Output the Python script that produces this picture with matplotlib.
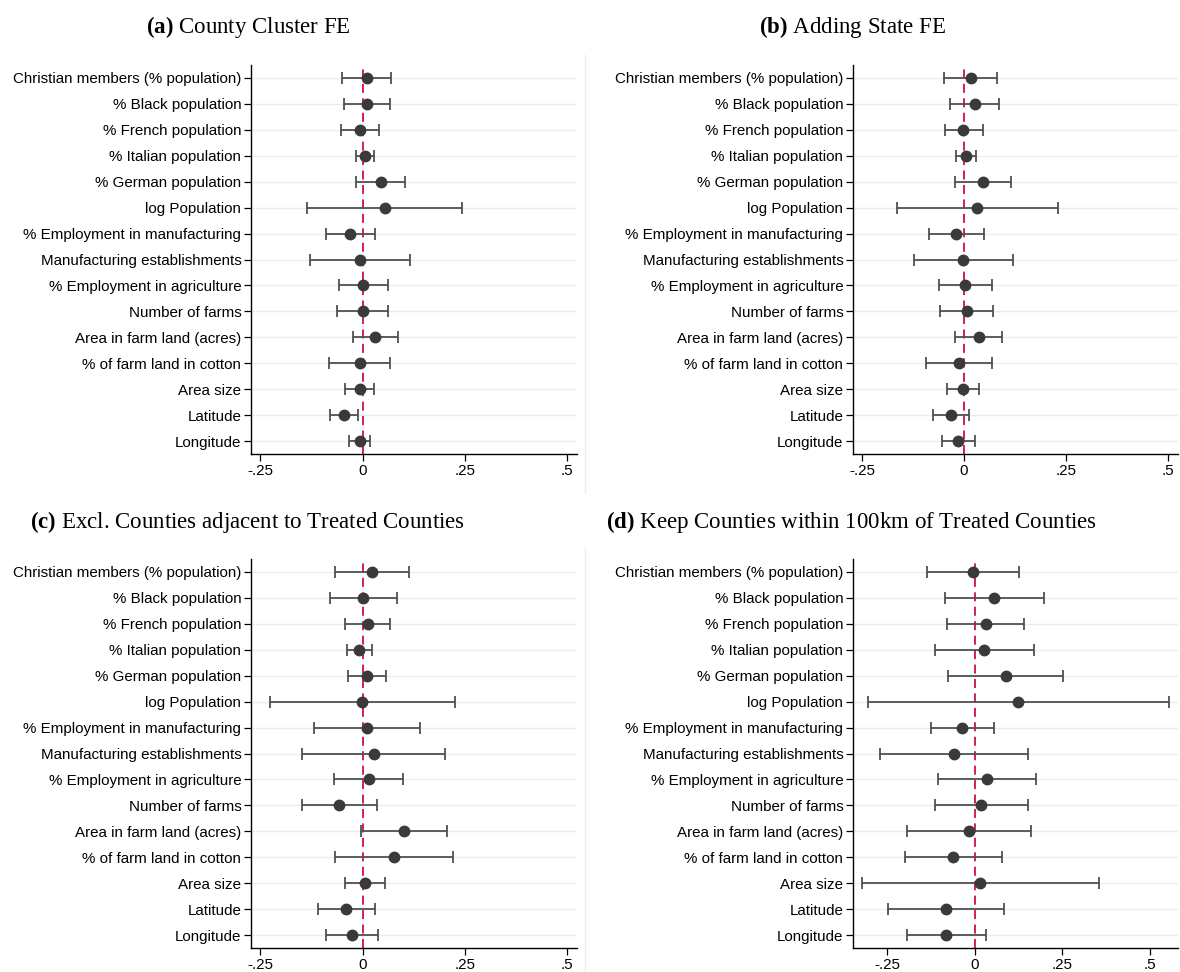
import matplotlib
matplotlib.use("Agg")
import matplotlib.pyplot as plt
import numpy as np

variables = [
    "Christian members (% population)",
    "% Black population",
    "% French population",
    "% Italian population",
    "% German population",
    "log Population",
    "% Employment in manufacturing",
    "Manufacturing establishments",
    "% Employment in agriculture",
    "Number of farms",
    "Area in farm land (acres)",
    "% of farm land in cotton",
    "Area size",
    "Latitude",
    "Longitude",
]

# (a) County Cluster FE
coef_a = [0.011, 0.011, -0.007, 0.006, 0.044, 0.054, -0.031, -0.007, 0.002, 0.000, 0.031, -0.007, -0.007, -0.046, -0.007]
lo_a = [-0.050, -0.045, -0.054, -0.017, -0.016, -0.135, -0.090, -0.129, -0.059, -0.063, -0.023, -0.082, -0.042, -0.080, -0.033]
hi_a = [0.069, 0.068, 0.039, 0.028, 0.104, 0.244, 0.029, 0.115, 0.061, 0.063, 0.086, 0.068, 0.028, -0.012, 0.019]

# (b) Adding State FE
coef_b = [0.016, 0.026, -0.002, 0.005, 0.046, 0.031, -0.019, -0.002, 0.003, 0.006, 0.036, -0.012, -0.002, -0.032, -0.014]
lo_b = [-0.048, -0.034, -0.047, -0.020, -0.022, -0.165, -0.086, -0.123, -0.061, -0.059, -0.022, -0.093, -0.041, -0.075, -0.055]
hi_b = [0.081, 0.086, 0.046, 0.030, 0.114, 0.230, 0.048, 0.120, 0.069, 0.072, 0.094, 0.069, 0.036, 0.012, 0.028]

# (c) Excl. Counties adjacent to Treated Counties
coef_c = [0.023, 0.002, 0.012, -0.009, 0.011, -0.002, 0.011, 0.027, 0.015, -0.057, 0.101, 0.076, 0.006, -0.041, -0.026]
lo_c = [-0.068, -0.079, -0.042, -0.038, -0.036, -0.226, -0.120, -0.148, -0.069, -0.148, -0.004, -0.068, -0.044, -0.110, -0.090]
hi_c = [0.114, 0.083, 0.067, 0.023, 0.057, 0.225, 0.141, 0.201, 0.099, 0.034, 0.206, 0.221, 0.055, 0.029, 0.037]

# (d) Keep Counties within 100km of Treated Counties
coef_d = [-0.006, 0.056, 0.031, 0.028, 0.088, 0.125, -0.035, -0.060, 0.034, 0.018, -0.016, -0.061, 0.016, -0.082, -0.081]
lo_d = [-0.137, -0.086, -0.078, -0.112, -0.077, -0.303, -0.125, -0.270, -0.105, -0.114, -0.194, -0.200, -0.322, -0.247, -0.194]
hi_d = [0.127, 0.198, 0.141, 0.170, 0.253, 0.553, 0.054, 0.152, 0.175, 0.151, 0.162, 0.079, 0.354, 0.084, 0.032]

xticks = [-0.25, 0, 0.25, 0.5]
xtick_labels = ["-.25", "0", ".25", ".5"]

W, H = 1180, 972


def px_axes(fig, left, top, right, bottom):
    return fig.add_axes([left / W, 1 - bottom / H, (right - left) / W, (bottom - top) / H])


def coef_panel(ax, coef, lo, hi, xlim):
    coef = np.array(coef)
    y = np.arange(1, len(coef) + 1)
    err = [coef - np.array(lo), np.array(hi) - coef]
    for yy in y:
        ax.axhline(yy, color="#e6eef0", lw=1.0, zorder=0)
    ax.axvline(0, color="#d0103a", lw=1.3, ls=(0, (5, 3)), zorder=1)
    ax.errorbar(coef, y, xerr=err, fmt="o", color="#3a3a3a", ecolor="#505050",
                elinewidth=1.3, capsize=4, capthick=1.3, markersize=7.5, zorder=3)
    ax.set_xlim(*xlim)
    ax.set_ylim(15.5, 0.5)
    ax.set_yticks(y)
    ax.set_yticklabels(variables)
    ax.set_xticks(xticks)
    ax.set_xticklabels(xtick_labels)
    for side in ["top", "right"]:
        ax.spines[side].set_visible(False)
    for side in ["left", "bottom"]:
        ax.spines[side].set_linewidth(1.0)
    ax.tick_params(axis="both", direction="out", length=5, width=0.9,
                   labelsize=10.9, pad=2, colors="black")
    for lbl in ax.get_xticklabels() + ax.get_yticklabels():
        lbl.set_fontfamily("Liberation Sans")


def title(fig, x, y, tag, text):
    fig.text(x / W, 1 - y / H, r"$\mathbf{(" + tag + ")}$ " + text, ha="center", va="center",
             fontsize=16.5, fontfamily="Liberation Serif")


def main():
    plt.rcParams["mathtext.fontset"] = "custom"
    plt.rcParams["mathtext.bf"] = "Liberation Serif:bold"
    plt.rcParams["mathtext.rm"] = "Liberation Serif"
    fig = plt.figure(figsize=(W / 100, H / 100), dpi=100)

    ax_a = px_axes(fig, 251, 65, 577, 454)
    coef_panel(ax_a, coef_a, lo_a, hi_a, (-0.273, 0.524))
    ax_b = px_axes(fig, 853, 65, 1178, 454)
    coef_panel(ax_b, coef_b, lo_b, hi_b, (-0.272, 0.524))
    ax_c = px_axes(fig, 251, 559, 577, 948)
    coef_panel(ax_c, coef_c, lo_c, hi_c, (-0.273, 0.524))
    ax_d = px_axes(fig, 853, 559, 1178, 948)
    coef_panel(ax_d, coef_d, lo_d, hi_d, (-0.347, 0.58))

    title(fig, 248, 27, "a", "County Cluster FE")
    title(fig, 852, 27, "b", "Adding State FE")
    title(fig, 248, 522, "c", "Excl. Counties adjacent to Treated Counties")
    title(fig, 852, 522, "d", "Keep Counties within 100km of Treated Counties")

    # faint borders of the embedded graph images
    fig.add_artist(plt.Line2D([585 / W, 585 / W], [1 - 55 / H, 1 - 493 / H], color="#eeeeee", lw=1))
    fig.add_artist(plt.Line2D([585 / W, 585 / W], [1 - 548 / H, 0], color="#eeeeee", lw=1))

    fig.savefig("out.png", dpi=100)


if __name__ == "__main__":
    main()
